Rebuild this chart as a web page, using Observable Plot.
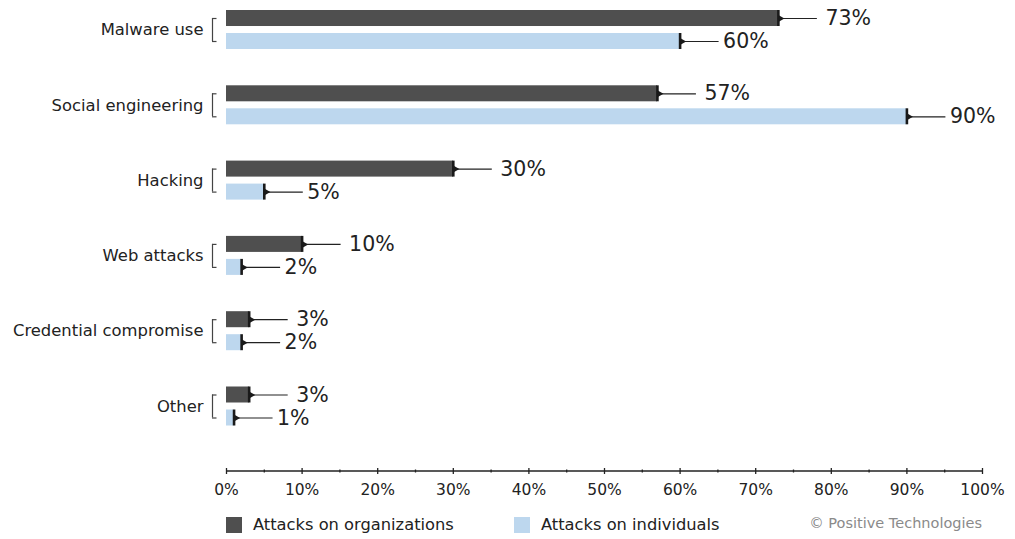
<!DOCTYPE html>
<html>
<head>
<meta charset="utf-8">
<script src="https://cdn.jsdelivr.net/npm/d3@7"></script>
<script src="https://cdn.jsdelivr.net/npm/@observablehq/plot@0.6"></script>
<style>
  body { margin: 0; background: #fff; font-family: "DejaVu Sans", sans-serif; color: #222; }
  #legend { position: relative; width: 1015px; height: 31px; font-size: 16.3px; }
  #legend .sw { position: absolute; top: 9px; width: 16px; height: 16px; }
  #legend .lab { position: absolute; top: 7px; line-height: 20px; white-space: nowrap; }
  #legend .copy { position: absolute; right: 33px; top: 5px; font-size: 14.5px; color: #8a8a8a; line-height: 20px; }
</style>
</head>
<body>
<div id="chart"></div>
<div id="legend"></div>
<script>
// Attack methods, shares of attacks (%)
const categories = ["Malware use", "Social engineering", "Hacking", "Web attacks", "Credential compromise", "Other"];
const orgShares = [73, 57, 30, 10, 3, 3];
const indShares = [60, 90, 5, 2, 2, 1];
const seriesNames = ["Attacks on organizations", "Attacks on individuals"];
const seriesColors = ["#4f4f4f", "#bdd7ee"];
const majorTicks = [0, 10, 20, 30, 40, 50, 60, 70, 80, 90, 100];
const minorTicks = [5, 15, 25, 35, 45, 55, 65, 75, 85, 95];
const copyright = "© Positive Technologies";

const seriesValues = [orgShares, indShares];
const rows = seriesNames.map((name, s) =>
  categories.map((category, i) => ({category, series: name, value: seriesValues[s][i]}))
);

const font = "DejaVu Sans, sans-serif";

// Marks for one series: bar, end marker, leader line and value label
function seriesMarks(data, s) {
  const upper = s === 0;
  const insets = upper ? {insetTop: 3.5, insetBottom: 26.5} : {insetTop: 26.5, insetBottom: 3.5};
  const dy = upper ? -11.5 : 11.5;
  return [
    Plot.barX(data, {x: "value", y: "category", fill: seriesColors[s], ...insets}),
    Plot.ruleY(data, {y: "category", x1: "value", x2: "value", insetRight: -39, dy, stroke: "#222", strokeWidth: 1.2}),
    Plot.tickX(data, {x: "value", y: "category", stroke: "#1a1a1a", strokeWidth: 2.6, ...insets}),
    Plot.dot(data, {x: "value", y: "category", dy, dx: 2, symbol: "triangle", r: 2.6, rotate: 90, fill: "#1a1a1a", stroke: null}),
    Plot.text(data, {x: "value", y: "category", dy, dx: upper ? 47 : 43, text: d => `${d.value}%`, textAnchor: "start", fontSize: 20.5, fill: "#222", fontFamily: font})
  ];
}

const chart = Plot.plot({
  width: 1015,
  height: 508,
  marginLeft: 226,
  marginRight: 33,
  marginTop: 0,
  marginBottom: 37,
  style: {fontFamily: font, background: "#fff", color: "#222", overflow: "visible"},
  x: {domain: [0, 100]},
  y: {domain: categories, paddingInner: 0.389, paddingOuter: 0.322, align: 0.134, round: false},
  marks: [
    // category labels
    Plot.axisY({tickSize: 0, tickPadding: 23, fontSize: 16.4, fill: "#222", label: null}),
    // brackets grouping each category's pair of bars
    Plot.tickX(categories, {x: 0, y: d => d, dx: -14, insetTop: 11.5, insetBottom: 11.5, stroke: "#444", strokeWidth: 1.2}),
    Plot.ruleY(categories, {y: d => d, x1: 0, x2: 0, dx: -14, insetRight: -4.5, dy: -11.5, stroke: "#444", strokeWidth: 1.2}),
    Plot.ruleY(categories, {y: d => d, x1: 0, x2: 0, dx: -14, insetRight: -4.5, dy: 11.5, stroke: "#444", strokeWidth: 1.2}),
    ...seriesMarks(rows[0], 0),
    ...seriesMarks(rows[1], 1),
    // x axis: baseline, major and minor ticks, labels
    (index, scales, values, dimensions) => {
      const {width, height, marginLeft, marginRight, marginBottom} = dimensions;
      return d3.create("svg:line")
        .attr("x1", marginLeft).attr("x2", width - marginRight)
        .attr("y1", height - marginBottom).attr("y2", height - marginBottom)
        .attr("stroke", "#222").attr("stroke-width", 1.4).node();
    },
    Plot.axisX({ticks: majorTicks, tickSize: 6, dy: -3, text: null, label: null, stroke: "#222", strokeWidth: 1.3}),
    Plot.axisX({ticks: minorTicks, tickSize: 3, dy: -1.5, text: null, label: null, stroke: "#222", strokeWidth: 1.3}),
    Plot.axisX({ticks: majorTicks, tickSize: 0, tickPadding: 12, tickFormat: d => `${d}%`, fontSize: 15.5, fill: "#222", label: null})
  ]
});
document.getElementById("chart").append(chart);

// legend row below the chart
const legend = d3.select("#legend");
const swatchX = [226, 514];
seriesNames.forEach((name, i) => {
  legend.append("div").attr("class", "sw").style("left", `${swatchX[i]}px`).style("background", seriesColors[i]);
  legend.append("div").attr("class", "lab").style("left", `${swatchX[i] + 27}px`).text(name);
});
legend.append("div").attr("class", "copy").text(copyright);
</script>
</body>
</html>
